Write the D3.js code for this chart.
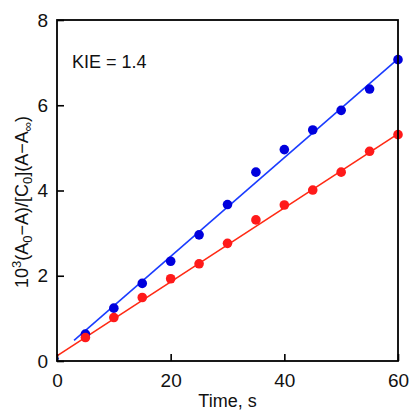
<!DOCTYPE html>
<html>
<head>
<meta charset="utf-8">
<script src="https://cdn.jsdelivr.net/npm/d3@7"></script>
<style>
  html, body { margin: 0; padding: 0; background: #fff; }
  svg { display: block; font-family: "Liberation Sans", Arial, sans-serif; }
</style>
</head>
<body>
<svg id="chart" width="409" height="413"></svg>
<script>
// Sampling times (s)
const times = [5, 10, 15, 20, 25, 30, 35, 40, 45, 50, 55, 60];
// Protio substrate (blue) and deuterated substrate (red)
const blueValues = [0.63, 1.24, 1.82, 2.34, 2.96, 3.67, 4.43, 4.96, 5.42, 5.88, 6.38, 7.07];
const redValues  = [0.55, 1.02, 1.49, 1.93, 2.28, 2.76, 3.31, 3.66, 4.01, 4.43, 4.92, 5.31];
// Linear fits: [slope, intercept, start time, end time]
const blueFit = [0.1159, 0.136, 3, 60];
const redFit  = [0.0868, 0.12, 0, 60];
const xTicks = [0, 20, 40, 60];
const yTicks = [0, 2, 4, 6, 8];

const svg = d3.select("#chart");
const margin = { left: 57, right: 11, top: 20, bottom: 52 };
const W = 409, H = 413;

const x = d3.scaleLinear().domain([0, 60]).range([margin.left, W - margin.right]);
const y = d3.scaleLinear().domain([0, 8]).range([H - margin.bottom, margin.top]);

const blueLine = "#1a3cff", bluePt = "#0000dd";
const redLine = "#ff2a14", redPt = "#ff1a1a";

// Fit lines
const line = d3.line().x(d => x(d[0])).y(d => y(d[1]));
function fitPts(f) { return [[f[2], f[0] * f[2] + f[1]], [f[3], f[0] * f[3] + f[1]]]; }

svg.append("path").datum(fitPts(redFit)).attr("d", line)
  .attr("fill", "none").attr("stroke", redLine).attr("stroke-width", 1.6);
svg.append("path").datum(fitPts(blueFit)).attr("d", line)
  .attr("fill", "none").attr("stroke", blueLine).attr("stroke-width", 1.6);
// short stub of the blue fit at the origin
svg.append("path").datum([[0, 0], [0.25, 0.08]]).attr("d", line)
  .attr("fill", "none").attr("stroke", blueLine).attr("stroke-width", 1.6);

// Data points
svg.append("g").selectAll("circle").data(times.map((t, i) => [t, blueValues[i]]))
  .join("circle").attr("cx", d => x(d[0])).attr("cy", d => y(d[1])).attr("r", 4.8)
  .attr("fill", bluePt);
svg.append("g").selectAll("circle").data(times.map((t, i) => [t, redValues[i]]))
  .join("circle").attr("cx", d => x(d[0])).attr("cy", d => y(d[1])).attr("r", 4.8)
  .attr("fill", redPt);

// Frame
svg.append("rect")
  .attr("x", x(0)).attr("y", y(8))
  .attr("width", x(60) - x(0)).attr("height", y(0) - y(8))
  .attr("fill", "none").attr("stroke", "#000").attr("stroke-width", 1.8);

// Axes with inward ticks
const xAxis = svg.append("g").attr("transform", `translate(0,${y(0)})`)
  .call(d3.axisBottom(x).tickValues(xTicks).tickSizeInner(-7).tickSizeOuter(0).tickPadding(13)
    .tickFormat(d3.format("d")));
const yAxis = svg.append("g").attr("transform", `translate(${x(0)},0)`)
  .call(d3.axisLeft(y).tickValues(yTicks).tickSizeInner(-7).tickSizeOuter(0).tickPadding(9)
    .tickFormat(d3.format("d")));
[xAxis, yAxis].forEach(g => {
  g.select(".domain").remove();
  g.selectAll(".tick line").attr("stroke", "#000").attr("stroke-width", 1.6);
  g.selectAll(".tick text").attr("fill", "#111").attr("font-size", 19)
    .attr("font-family", "'Liberation Sans', Arial, sans-serif");
});

// Axis titles
svg.append("text").attr("x", (x(0) + x(60)) / 2).attr("y", 407)
  .attr("text-anchor", "middle").attr("font-size", 18).attr("fill", "#111")
  .text("Time, s");

const yl = svg.append("text")
  .attr("transform", `translate(28,202) rotate(-90)`)
  .attr("text-anchor", "middle").attr("font-size", 18).attr("fill", "#111");
yl.append("tspan").text("10");
yl.append("tspan").attr("dy", -7).attr("font-size", 13).text("3");
yl.append("tspan").attr("dy", 7).text("(A");
yl.append("tspan").attr("dy", 4).attr("font-size", 13).text("0");
yl.append("tspan").attr("dy", -4).text("\u2212A)/[C");
yl.append("tspan").attr("dy", 4).attr("font-size", 13).text("0");
yl.append("tspan").attr("dy", -4).text("](A\u2212A");
yl.append("tspan").attr("dy", 4).attr("font-size", 13).text("\u221e");
yl.append("tspan").attr("dy", -4).text(")");

// Annotation
svg.append("text").attr("x", 72).attr("y", 68)
  .attr("font-size", 18).attr("fill", "#111").text("KIE = 1.4");
</script>
</body>
</html>
